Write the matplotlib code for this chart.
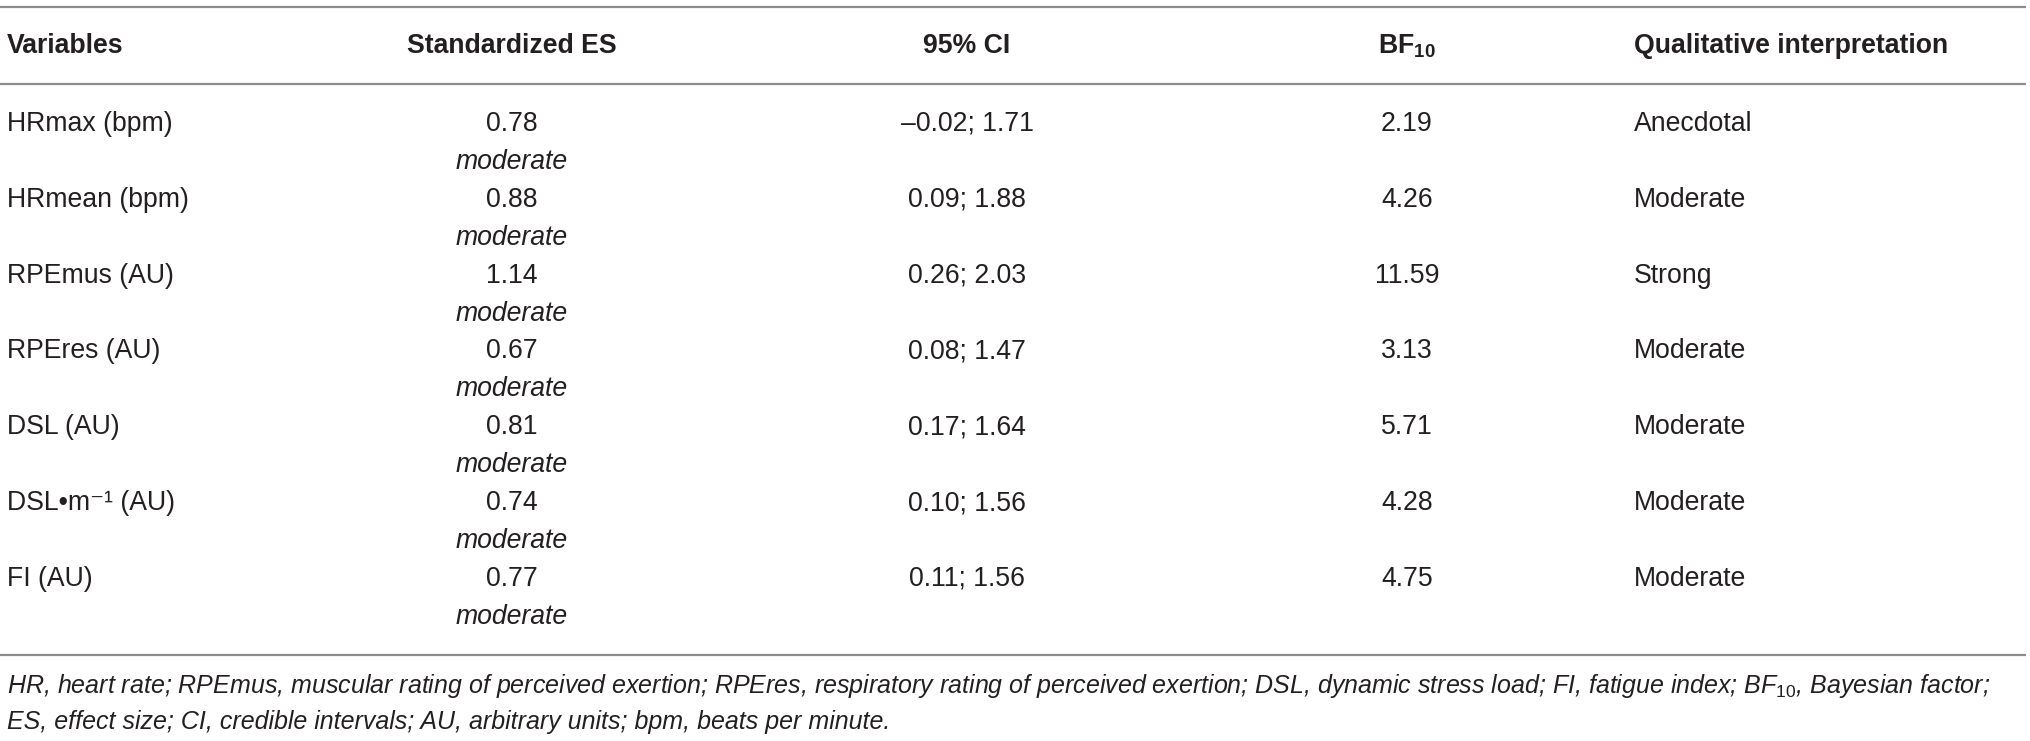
import matplotlib
matplotlib.use("Agg")
import matplotlib.pyplot as plt

plt.rcParams['font.family'] = ['Liberation Sans', 'DejaVu Sans']
plt.rcParams['mathtext.fontset'] = 'custom'
plt.rcParams['mathtext.rm'] = 'Liberation Sans'
plt.rcParams['mathtext.it'] = 'Liberation Sans:italic'
plt.rcParams['mathtext.bf'] = 'Liberation Sans:bold'

# table content
headers = ["Variables", "Standardized ES", "95% CI", r"BF$_{\mathbf{10}}$", "Qualitative interpretation"]
variables = ["HRmax (bpm)", "HRmean (bpm)", "RPEmus (AU)", "RPEres (AU)",
             "DSL (AU)", "DSL•m⁻¹ (AU)", "FI (AU)"]
es_values = ["0.78", "0.88", "1.14", "0.67", "0.81", "0.74", "0.77"]
es_labels = ["moderate"] * 7
ci_values = ["–0.02; 1.71", "0.09; 1.88", "0.26; 2.03", "0.08; 1.47",
             "0.17; 1.64", "0.10; 1.56", "0.11; 1.56"]
bf_values = ["2.19", "4.26", "11.59", "3.13", "5.71", "4.28", "4.75"]
interpretation = ["Anecdotal", "Moderate", "Strong", "Moderate",
                  "Moderate", "Moderate", "Moderate"]
footnote = [r"HR, heart rate; RPEmus, muscular rating of perceived exertion; RPEres, respiratory rating of perceived exertion; DSL, dynamic stress load; FI, fatigue index; $\mathit{BF}_{\mathit{10}}$, Bayesian factor;",
            "ES, effect size; CI, credible intervals; AU, arbitrary units; bpm, beats per minute."]

W, H = 2031, 741
fig = plt.figure(figsize=(W / 100, H / 100), dpi=100)
ax = fig.add_axes([0, 0, 1, 1])
ax.set_xlim(0, W)
ax.set_ylim(H, 0)
ax.axis("off")

txt = "#231f20"
fs = 19.2
fs_note = 18
rule = "#8c8c8c"

# column anchors (x, ha)
col_x = [7, 512, 967, 1407, 1634]
col_ha = ["left", "center", "center", "center", "left"]

ax.hlines([7, 84, 655], 0, 2026, color=rule, lw=1.6)

for x, ha, h in zip(col_x, col_ha, headers):
    ax.text(x, 46, h, ha=ha, va="center", fontsize=fs, fontweight="bold", color=txt)

row0, step, sub = 124, 75.8, 38
for i in range(len(variables)):
    y = row0 + i * step
    ax.text(col_x[0], y, variables[i], ha="left", va="center", fontsize=fs, color=txt)
    ax.text(col_x[1], y, es_values[i], ha="center", va="center", fontsize=fs, color=txt)
    ax.text(col_x[1], y + sub, es_labels[i], ha="center", va="center", fontsize=fs,
            style="italic", color=txt)
    ax.text(col_x[2], y, ci_values[i], ha="center", va="center", fontsize=fs, color=txt)
    ax.text(col_x[3], y, bf_values[i], ha="center", va="center", fontsize=fs, color=txt)
    ax.text(col_x[4], y, interpretation[i], ha="left", va="center", fontsize=fs, color=txt)

for j, line in enumerate(footnote):
    ax.text(7, 686 + j * 36, line, ha="left", va="center", fontsize=fs_note, style="italic", color=txt)

fig.savefig("out.png", dpi=100, facecolor="white")
